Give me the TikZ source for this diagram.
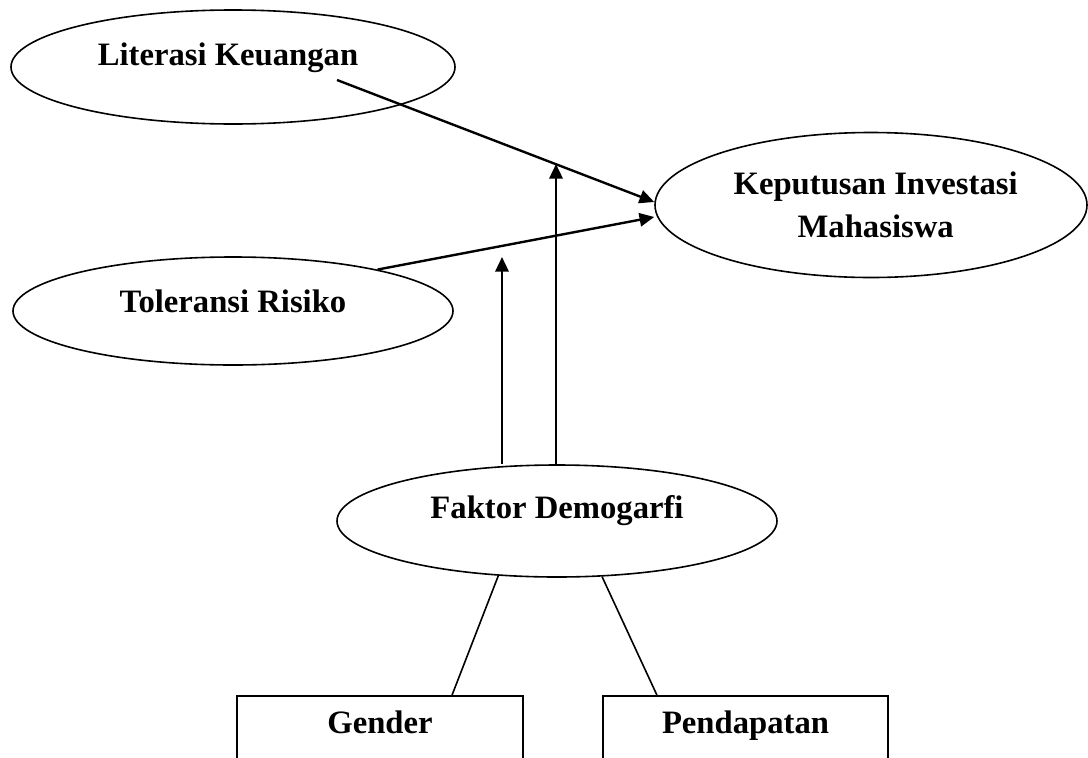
\documentclass[tikz,border=0pt]{standalone}
\usepackage{fontspec}
\setmainfont{Liberation Serif}
\usetikzlibrary{shapes.geometric,arrows.meta,positioning}

\tikzset{
  oval/.style={draw, ellipse, line width=1.2pt, inner sep=0pt},
  box/.style={draw, rectangle, line width=1.2pt, inner sep=0pt},
  lbl/.style={font=\fontsize{24.5}{32}\selectfont\bfseries, align=center},
  tag/.style={lbl, text height=18pt, text depth=6pt, inner sep=0pt},
  arr/.style={line width=1.8pt, -{Triangle[length=11pt,width=10pt]}},
  link/.style={line width=1.2pt}
}

\begin{document}
\begin{tikzpicture}[x=0.75pt,y=-0.75pt]
\clip (0,0) rectangle (1088,757);
% variabel
\node[oval, minimum width=333pt, minimum height=85.5pt,
  label={[tag,yshift=7.5pt,xshift=-3.75pt]center:Literasi Keuangan}] (lit) at (233,67) {};
\node[oval, lbl, minimum width=324pt, minimum height=108.75pt] (kep) at (871,205)
  {\hspace*{7pt}Keputusan Investasi\\\hspace*{7pt}Mahasiswa};
\node[oval, minimum width=330pt, minimum height=81pt,
  label={[tag,yshift=5.25pt]center:Toleransi Risiko}] (tol) at (233,311) {};
\node[oval, minimum width=330pt, minimum height=84pt,
  label={[tag,yshift=8.25pt]center:Faktor Demogarfi}] (fak) at (557,521) {};
% indikator
\node[box, minimum width=214.5pt, minimum height=78pt,
  label={[tag,yshift=17.25pt]center:Gender}] (gen) at (380,748) {};
\node[box, minimum width=213.75pt, minimum height=78pt,
  label={[tag,yshift=17.25pt]center:Pendapatan}] (pen) at (745.5,748) {};

\coordinate (litout) at (337,80);
\coordinate (m1) at (502,257);
\coordinate (m2) at (556,164);

\draw[arr] (litout) -- ([yshift=2.25pt]kep.west);
\draw[arr] (tol.16.7) -- ([yshift=-9pt]kep.west);
\draw[arr] (m1 |- fak.north) -- (m1);
\draw[arr] (m2 |- fak.north) -- (m2);
\draw[link] (fak.223.5) -- ([xshift=54pt]gen.north);
\draw[link] (fak.309.4) -- ([xshift=-66.4pt]pen.north);
\end{tikzpicture}
\end{document}
